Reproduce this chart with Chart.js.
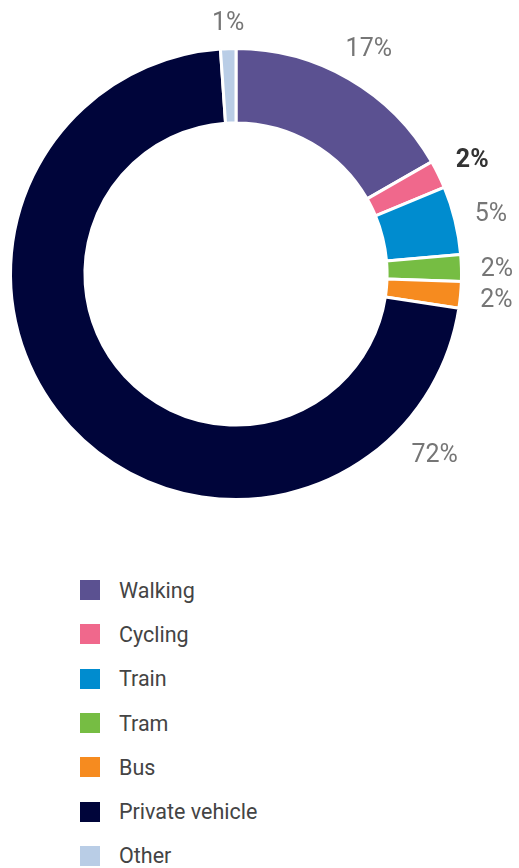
<!DOCTYPE html>
<html><head><meta charset="utf-8">
<script src="https://cdn.jsdelivr.net/npm/chart.js@4.4.1/dist/chart.umd.min.js"></script>
<style>
html,body{margin:0;padding:0;background:#fff;}
#wrap{position:relative;width:519px;height:868px;overflow:hidden;}
#chartBox{position:absolute;left:0;top:0;width:519px;height:540px;}
#legend{position:absolute;left:0;top:568px;margin:0;padding:0;list-style:none;font-family:Roboto,sans-serif;font-size:21.5px;color:#444;}
#legend li{height:44.3px;display:flex;align-items:center;white-space:nowrap;}
#legend .box{width:20px;height:20px;margin-left:80px;margin-right:19px;flex:none;}
</style></head>
<body>
<div id="wrap">
  <div id="chartBox"><canvas id="c"></canvas></div>
  <ul id="legend"></ul>
</div>
<script>
const categories = ['Walking', 'Cycling', 'Train', 'Tram', 'Bus', 'Private vehicle', 'Other'];
const shares = [16.7, 2.0, 4.9, 1.9, 1.9, 71.4, 1.1];
const shareLabels = ['17%', '2%', '5%', '2%', '2%', '72%', '1%'];
const boldLabels = [false, true, false, false, false, false, false];
const labelAnchor = [0.5, 0.5, 0.5, 0.5, 0.5, 0.13, 0.5];
const colors = ['#5b5191', '#f0688c', '#008ccf', '#76bd43', '#f68b1f', '#00053a', '#b9cde6'];

const outsideLabels = {
  id: 'outsideLabels',
  afterDatasetsDraw(chart) {
    const ctx = chart.ctx;
    const meta = chart.getDatasetMeta(0);
    ctx.save();
    ctx.textAlign = 'center';
    ctx.textBaseline = 'middle';
    meta.data.forEach((arc, i) => {
      const p = arc.getProps(['x', 'y', 'startAngle', 'endAngle', 'outerRadius'], true);
      const a = p.startAngle + (p.endAngle - p.startAngle) * labelAnchor[i];
      ctx.font = (boldLabels[i] ? 'bold ' : '') + '25px Roboto, sans-serif';
      ctx.fillStyle = boldLabels[i] ? '#333333' : '#767676';
      const hw = ctx.measureText(shareLabels[i]).width / 2;
      const hh = 9;
      const r = p.outerRadius + 18 + Math.abs(Math.cos(a)) * hw + Math.abs(Math.sin(a)) * hh;
      ctx.fillText(shareLabels[i], p.x + 1 + r * Math.cos(a), p.y + 3 + r * Math.sin(a));
    });
    ctx.restore();
  }
};

const chart = new Chart(document.getElementById('c'), {
  type: 'doughnut',
  data: {
    labels: categories,
    datasets: [{
      data: shares,
      backgroundColor: colors,
      borderColor: '#ffffff',
      borderWidth: 3,
      hoverOffset: 0
    }]
  },
  options: {
    responsive: true,
    maintainAspectRatio: false,
    animation: false,
    cutout: '67%',
    layout: { padding: { left: 9, right: 56, top: 47, bottom: 39 } },
    plugins: {
      legend: { display: false },
      tooltip: { enabled: false }
    }
  },
  plugins: [outsideLabels]
});

const legendEl = document.getElementById('legend');
const items = chart.options.plugins.legend.labels.generateLabels(chart);
items.forEach(item => {
  const li = document.createElement('li');
  const box = document.createElement('span');
  box.className = 'box';
  box.style.background = item.fillStyle;
  const txt = document.createElement('span');
  txt.textContent = item.text;
  li.appendChild(box);
  li.appendChild(txt);
  legendEl.appendChild(li);
});
</script>
</body></html>
